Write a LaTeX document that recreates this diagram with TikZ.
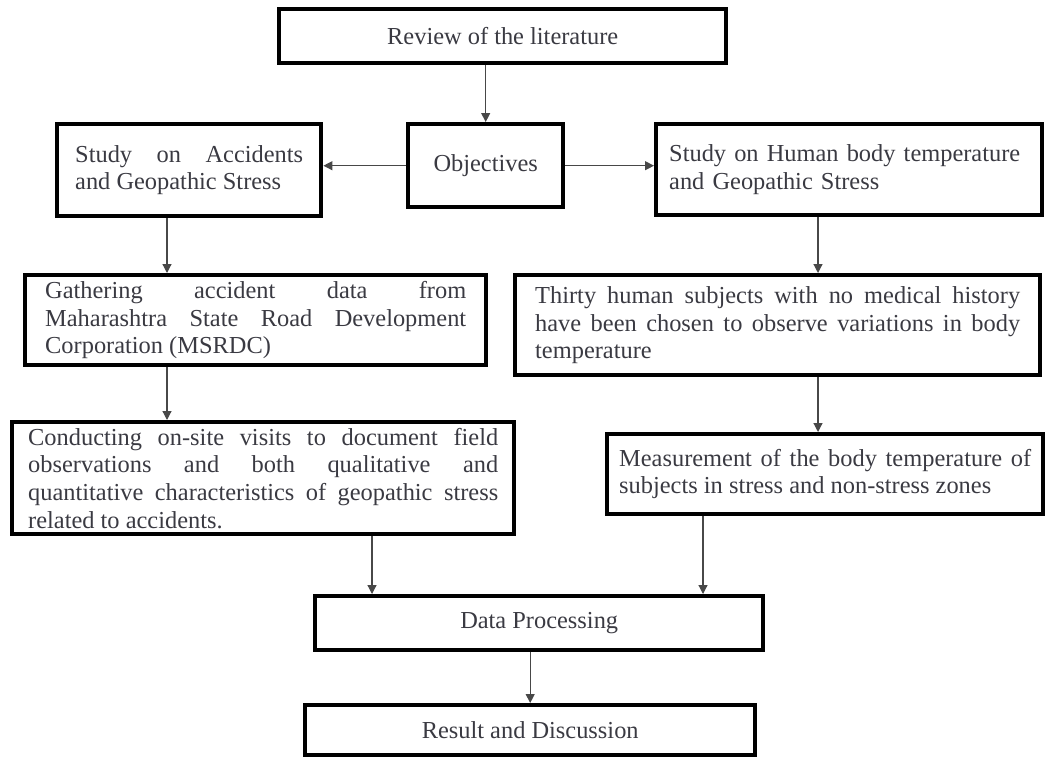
\documentclass[tikz,border=0pt]{standalone}
\usepackage{fontspec}
\setmainfont{Liberation Serif}
\usetikzlibrary{arrows.meta}
\definecolor{my_text}{HTML}{3A3A42}
\definecolor{my_arrow}{HTML}{484848}
\tolerance=10000
\hbadness=10000
\hyphenpenalty=10000

\begin{document}
\begin{tikzpicture}[
    x=0.5pt, y=-0.5pt,
    box/.style={draw=black, line width=2.2pt, anchor=north west, inner ysep=0pt,
        text=my_text, font=\fontsize{12.2}{13.8}\selectfont},
    flowarrow/.style={draw=my_arrow, line width=0.6pt,
        -{Triangle[length=4.5pt, width=4.5pt]}}
]
\useasboundingbox (0, 0) rectangle (1048, 760);

%% ---- Top of the flow ----
\node[box, minimum width=223.5pt, minimum height=27pt]
    (review) at (277, 7) {Review of the literature};
\node[box, minimum width=77.5pt, minimum height=41.5pt]
    (objectives) at (406, 122) {Objectives};

%% ---- Left branch: accidents ----
\node[box, text width=114pt, inner xsep=9pt, minimum height=46pt, align=justify]
    (accstudy) at (55, 122) {Study on Accidents\linebreak and Geopathic Stress};
\node[box, text width=210.5pt, inner xsep=10pt, minimum height=45pt, align=justify]
    (gather) at (23, 273)
    {Gathering accident data from\linebreak Maharashtra State Road Development\linebreak Corporation (MSRDC)};
\node[box, text width=235pt, inner xsep=8pt, minimum height=56pt, align=justify]
    (visits) at (10, 420)
    {Conducting on-site visits to document field\linebreak observations and both qualitative and\linebreak quantitative characteristics of geopathic stress\linebreak related to accidents.};

%% ---- Right branch: body temperature ----
\node[box, text width=180pt, inner xsep=6.5pt, minimum height=45.5pt, align=left]
    (bodystudy) at (654, 122) {Study on Human body temperature\\ and Geopathic Stress};
\node[box, text width=242.5pt, inner xsep=10pt, minimum height=50pt, align=justify]
    (subjects) at (513, 273)
    {Thirty human subjects with no medical history\linebreak have been chosen to observe variations in body\linebreak temperature};
\node[box, text width=206pt, inner xsep=6pt, minimum height=40pt, align=justify]
    (measure) at (605, 432)
    {Measurement of the body temperature of\linebreak subjects in stress and non-stress zones};

%% ---- Bottom of the flow ----
\node[box, minimum width=224pt, minimum height=27pt]
    (dataproc) at (313, 594) {Data Processing};
\node[box, minimum width=225pt, minimum height=25pt]
    (result) at (303, 703) {Result and Discussion};

%% ---- Columns of the vertical arrows ----
\coordinate (leftcol) at (167, 0);
\coordinate (rightcol) at (818, 0);
\coordinate (leftin) at (372, 0);
\coordinate (rightin) at (703, 0);

%% ---- Arrows ----
\draw[flowarrow] (review.south -| objectives.north) -- (objectives.north);
\draw[flowarrow] (objectives.west) -- (objectives.west -| accstudy.east);
\draw[flowarrow] (objectives.east) -- (objectives.east -| bodystudy.west);
\draw[flowarrow] (accstudy.south -| leftcol) -- (gather.north -| leftcol);
\draw[flowarrow] (gather.south -| leftcol) -- (visits.north -| leftcol);
\draw[flowarrow] (bodystudy.south -| rightcol) -- (subjects.north -| rightcol);
\draw[flowarrow] (subjects.south -| rightcol) -- (measure.north -| rightcol);
\draw[flowarrow] (visits.south -| leftin) -- (dataproc.north -| leftin);
\draw[flowarrow] (measure.south -| rightin) -- (dataproc.north -| rightin);
\draw[flowarrow] (dataproc.south -| result.north) -- (result.north);

\end{tikzpicture}
\end{document}
